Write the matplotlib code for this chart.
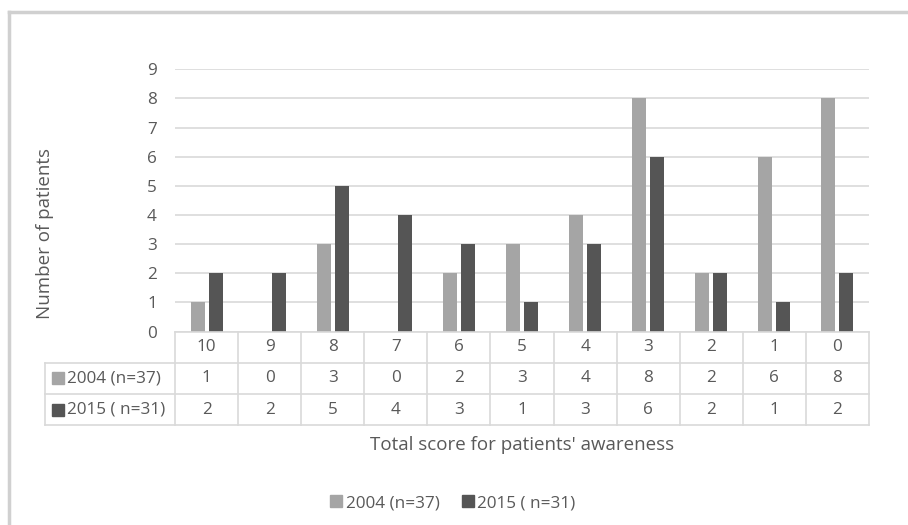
import matplotlib
matplotlib.use("Agg")
import matplotlib.pyplot as plt
from matplotlib.patches import Patch, Rectangle
import numpy as np

# Data
scores = ["10", "9", "8", "7", "6", "5", "4", "3", "2", "1", "0"]
series_names = ["2004 (n=37)", "2015 ( n=31)"]
vals_2004 = [1, 0, 3, 0, 2, 3, 4, 8, 2, 6, 8]
vals_2015 = [2, 2, 5, 4, 3, 1, 3, 6, 2, 1, 2]

C_2004 = "#a5a5a5"
C_2015 = "#555555"
TXT = "#595959"
GRID = "#d9d9d9"
FS = 12.3
FS_T = 13.5

plt.rcParams["font.family"] = ["Open Sans", "DejaVu Sans"]

W, H = 908, 525
fig = plt.figure(figsize=(W / 100, H / 100), dpi=100)


def fx(px):
    return px / W


def fy(py):
    return 1 - py / H


# chart border (light grey, only top/left visible)
fig.add_artist(plt.Line2D([fx(9), 1], [fy(12), fy(12)], color="#d0d0d0", lw=2.5))
fig.add_artist(plt.Line2D([fx(9), fx(9)], [fy(12), 0], color="#d0d0d0", lw=2.5))

# plot area
x_left, x_right = 175, 869
y_top, y_zero = 69.3, 331.5
ax = fig.add_axes([fx(x_left), fy(y_zero), fx(x_right - x_left), (y_zero - y_top) / H])
x = np.arange(len(scores))
bw = 0.222
off = 0.143
ax.bar(x - off, vals_2004, bw, color=C_2004, zorder=3)
ax.bar(x + off, vals_2015, bw, color=C_2015, zorder=3)
ax.set_xlim(-0.5, len(scores) - 0.5)
ax.set_ylim(0, 9)
ax.set_yticks(range(10))
ax.yaxis.grid(True, color=GRID, lw=1.2)
ax.set_axisbelow(True)
for s in ax.spines.values():
    s.set_visible(False)
ax.tick_params(axis="y", length=0, pad=13, labelsize=FS, labelcolor=TXT)
ax.set_xticks([])

# y label
fig.text(fx(45), fy(233), "Number of patients", rotation=90, ha="center", va="center",
         fontsize=FS_T, color=TXT)

# data table
t_left, t_top, t_bot = 45, 331.5, 425.3
row_h = (t_bot - t_top) / 3
cw = (x_right - x_left) / len(scores)
tax = fig.add_axes([0, 0, 1, 1])
tax.set_xlim(0, W)
tax.set_ylim(H, 0)
tax.axis("off")
lk = dict(color=GRID, lw=1.2)
# horizontal lines
tax.plot([x_left, x_right], [t_top, t_top], **lk)
for i in (1, 2, 3):
    yy = t_top + i * row_h
    tax.plot([t_left, x_right], [yy, yy], **lk)
# vertical lines
tax.plot([t_left, t_left], [t_top + row_h, t_bot], **lk)
for j in range(len(scores) + 1):
    xx = x_left + j * cw
    tax.plot([xx, xx], [t_top, t_bot], **lk)

for j, s in enumerate(scores):
    cx = x_left + (j + 0.5) * cw
    tax.text(cx, t_top + 0.5 * row_h, s, ha="center", va="center", fontsize=FS, color=TXT)
    tax.text(cx, t_top + 1.5 * row_h, str(vals_2004[j]), ha="center", va="center",
             fontsize=FS, color=TXT)
    tax.text(cx, t_top + 2.5 * row_h, str(vals_2015[j]), ha="center", va="center",
             fontsize=FS, color=TXT)

for i, (name, c) in enumerate(zip(series_names, [C_2004, C_2015])):
    yc = t_top + (1.5 + i) * row_h
    tax.add_patch(Rectangle((52, yc - 6), 12, 12, color=c))
    tax.text(67, yc, name, ha="left", va="center", fontsize=FS, color=TXT)

# x label
fig.text(fx((x_left + x_right) / 2), fy(445), "Total score for patients' awareness",
         ha="center", va="center", fontsize=FS_T, color=TXT)

# legend
handles = [Patch(color=C_2004, label=series_names[0]),
           Patch(color=C_2015, label=series_names[1])]
fig.legend(handles=handles, loc="center", bbox_to_anchor=(fx(453), fy(503)), ncol=2,
           frameon=False, fontsize=FS, labelcolor=TXT, handlelength=0.7,
           handleheight=0.7, handletextpad=0.2, columnspacing=1.3)

fig.savefig("out.png", dpi=100)
